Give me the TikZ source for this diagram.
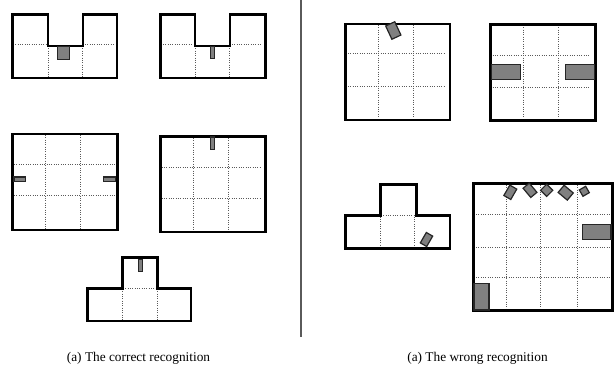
\documentclass[tikz,border=0pt]{standalone}
\usepackage{fontspec}
\setmainfont{Liberation Serif}
\usepackage{tikz}
\usetikzlibrary{positioning}
\definecolor{objgray}{RGB}{128,128,128}
\definecolor{linegray}{RGB}{90,90,90}

\begin{document}
\begin{tikzpicture}[x=0.75pt, y=-0.75pt,
    wall/.style={line width=1.9pt, line join=miter},
    gridl/.style={densely dotted, linegray, line width=0.75pt},
    obj/.style={draw=black!85, fill=objgray, line width=0.9pt},
    tobj/.style={obj, inner sep=0pt, outer sep=0pt},
    caption/.style={font=\fontsize{10}{12}\selectfont, anchor=base}]
    \useasboundingbox (0,0) rectangle (616,367);

    % Left side: correct recognition
    % U room 1
    \draw[gridl] (13,44.5) -- (46,44.5) (85,44.5) -- (115,44.5);
    \draw[gridl] (48,46) -- (48,77) (82,46) -- (82,77);
    \draw[wall] (12.7,14.3) -- (12.7,78) -- (117,78) -- (117,14.3) -- (83,14.3) -- (83,46) -- (48,46) -- (48,14.3) -- cycle;
    \draw[obj] (57.3,46.7) rectangle (69.7,59.3);

    % U room 2
    \draw[gridl] (163,44.5) -- (193,44.5) (232,44.5) -- (262,44.5);
    \draw[gridl] (195,46) -- (195,77) (229,46) -- (229,77);
    \draw[wall] (160.7,14.3) -- (160.7,78) -- (265.3,78) -- (265.3,14.3) -- (230,14.3) -- (230,46) -- (195,46) -- (195,14.3) -- cycle;
    \draw[obj] (210.3,46.7) rectangle (214.7,58.3);

    % Square room C
    \draw[gridl] (45.7,135) -- (45.7,229) (80.3,135) -- (80.3,229);
    \draw[gridl] (14,164.3) -- (116,164.3) (14,195.7) -- (116,195.7);
    \draw[wall] (12.7,134) rectangle (117.3,230);
    \draw[obj] (14,177) rectangle (25.7,181.3);
    \draw[obj] (103.3,177) rectangle (115.7,181.3);

    % Square room D
    \draw[gridl] (193,138) -- (193,231) (228,138) -- (228,231);
    \draw[gridl] (159.3,167.7) -- (260.7,167.7) (159.3,198.7) -- (260.7,198.7);
    \draw[wall] (160.7,136.7) rectangle (265.3,232);
    \draw[obj] (210.3,137) rectangle (214.3,149.7);

    % T room left
    \draw[gridl] (123,288.3) -- (157,288.3);
    \draw[gridl] (122.7,289) -- (122.7,320) (157.3,289) -- (157.3,320);
    \draw[wall] (122.7,257.3) -- (157.3,257.3) -- (157.3,288.3) -- (191,288.3) -- (191,321) -- (87.7,321) -- (87.7,288.3) -- (122.7,288.3) -- cycle;
    \draw[obj] (138.7,259.3) rectangle (142.7,271.7);

    % Separator
    \draw[linegray, line width=1.1pt] (301,0) -- (301,337);

    % Right side: wrong recognition
    % Square room A
    \draw[gridl] (378.3,25) -- (378.3,118) (413.3,25) -- (413.3,118);
    \draw[gridl] (348,54) -- (446,54) (348,86.7) -- (446,86.7);
    \draw[wall] (345.7,24) rectangle (450,120);
    \node[tobj, minimum width=7.5pt, minimum height=11pt, rotate=25] (a1) at (393.3,30.5) {};

    % Square room B
    \draw[gridl] (523.3,25) -- (523.3,118) (558.7,25) -- (558.7,118);
    \draw[gridl] (492.7,55.3) -- (590,55.3) (492.7,87.3) -- (590,87.3);
    \draw[wall] (490.7,24.3) rectangle (595.3,120.7);
    \draw[obj] (491.7,64.3) rectangle (520.7,79.3);
    \draw[obj] (565.7,64.3) rectangle (594.7,79.3);

    % T room right
    \draw[gridl] (381,215.7) -- (416,215.7);
    \draw[gridl] (380.7,216.5) -- (380.7,247.5) (414.5,216.5) -- (414.5,247.5);
    \draw[wall] (380.7,184.3) -- (416.3,184.3) -- (416.3,215.7) -- (450,215.7) -- (450,248.3) -- (345.7,248.3) -- (345.7,215.7) -- (380.7,215.7) -- cycle;
    \node[tobj, minimum width=5.5pt, minimum height=9pt, rotate=-30] (t1) at (426.5,239.5) {};

    % Big square room E
    \draw[gridl] (506.7,185) -- (506.7,309) (540.7,185) -- (540.7,309) (577,185) -- (577,309);
    \draw[gridl] (476,214.7) -- (609.3,214.7) (476,247) -- (609.3,247) (476,277.7) -- (609.3,277.7);
    \draw[wall] (473.7,183.7) rectangle (612.3,310.7);
    \draw[obj] (582.3,224.3) rectangle (611,239.3);
    \draw[obj] (474,283.3) rectangle (489,310);
    \node[tobj, minimum width=6pt, minimum height=9pt, rotate=-30] (e1) at (510.3,192.3) {};
    \node[tobj, minimum width=6pt, minimum height=9pt, rotate=40] (e2) at (530,190.3) {};
    \node[tobj, minimum width=6.5pt, minimum height=6.5pt, rotate=45] (e3) at (546.7,190.3) {};
    \node[tobj, minimum width=7pt, minimum height=9pt, rotate=50] (e4) at (565.7,192.7) {};
    \node[tobj, minimum width=5.5pt, minimum height=5.5pt, rotate=30] (e5) at (584.3,191.3) {};

    % Captions
    \node[caption] (capl) at (138.5,361) {(a) The correct recognition};
    \node[caption] (capr) at (477.5,361) {(a) The wrong recognition};
\end{tikzpicture}
\end{document}
